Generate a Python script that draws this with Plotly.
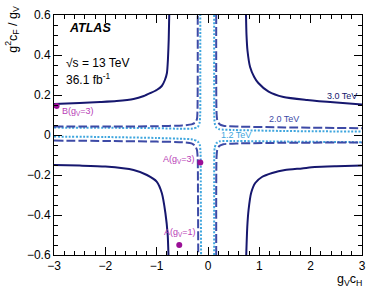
import plotly.graph_objects as go

# ---- data ----
# 3.0 TeV contour (solid), four branches
sol_ul_x = [-3.0, -2.5, -2.1, -1.78, -1.45, -1.25, -1.12, -1.0, -0.9, -0.84, -0.8, -0.78, -0.765, -0.755]
sol_ul_y = [0.155, 0.16, 0.165, 0.17, 0.18, 0.195, 0.21, 0.225, 0.245, 0.275, 0.31, 0.38, 0.48, 0.6]
sol_ur_x = [0.74, 0.75, 0.77, 0.82, 0.9, 0.98, 1.18, 1.47, 1.93, 2.5, 3.0]
sol_ur_y = [0.6, 0.5, 0.42, 0.34, 0.29, 0.26, 0.217, 0.19, 0.175, 0.162, 0.153]
sol_ll_x = [-3.0, -2.5, -2.0, -1.45, -1.19, -1.0, -0.9, -0.83, -0.785, -0.77]
sol_ll_y = [-0.15, -0.153, -0.158, -0.175, -0.2, -0.233, -0.29, -0.39, -0.5, -0.6]
sol_lr_x = [0.745, 0.765, 0.79, 0.84, 0.92, 1.05, 1.25, 1.5, 1.83, 2.08, 2.5, 3.0]
sol_lr_y = [-0.6, -0.46, -0.375, -0.29, -0.24, -0.21, -0.19, -0.175, -0.167, -0.16, -0.156, -0.153]

# 2.0 TeV contour (dashed)
das_ul_x = [-3.0, -2.0, -1.0, -0.5, -0.32, -0.25, -0.215, -0.205, -0.2, -0.2]
das_ul_y = [0.043, 0.042, 0.044, 0.048, 0.053, 0.062, 0.08, 0.12, 0.3, 0.6]
das_ur_x = [0.16, 0.16, 0.165, 0.18, 0.22, 0.3, 0.6, 1.5, 3.0]
das_ur_y = [0.6, 0.3, 0.12, 0.075, 0.055, 0.046, 0.042, 0.038, 0.034]
das_ll_x = [-3.0, -2.0, -1.0, -0.5, -0.32, -0.25, -0.215, -0.2, -0.195, -0.19]
das_ll_y = [-0.028, -0.03, -0.033, -0.036, -0.042, -0.055, -0.075, -0.12, -0.3, -0.6]
das_lr_x = [0.16, 0.16, 0.165, 0.18, 0.22, 0.3, 0.6, 1.5, 3.0]
das_lr_y = [-0.6, -0.3, -0.12, -0.075, -0.055, -0.046, -0.042, -0.039, -0.037]

# 1.2 TeV contour (dotted)
dot_ul_x = [-3.0, -2.0, -1.0, -0.5, -0.3, -0.2, -0.165, -0.152, -0.15, -0.15]
dot_ul_y = [0.037, 0.036, 0.034, 0.031, 0.032, 0.04, 0.06, 0.1, 0.3, 0.6]
dot_ur_x = [0.12, 0.12, 0.122, 0.13, 0.16, 0.22, 0.5, 1.5, 3.0]
dot_ur_y = [0.6, 0.3, 0.1, 0.06, 0.038, 0.029, 0.025, 0.02, 0.017]
dot_ll_x = [-3.0, -2.0, -1.0, -0.5, -0.3, -0.2, -0.16, -0.145, -0.14, -0.135]
dot_ll_y = [-0.008, -0.01, -0.015, -0.019, -0.022, -0.032, -0.05, -0.09, -0.3, -0.6]
dot_lr_x = [0.12, 0.12, 0.122, 0.13, 0.16, 0.22, 0.5, 1.5, 3.0]
dot_lr_y = [-0.6, -0.3, -0.1, -0.065, -0.042, -0.032, -0.03, -0.033, -0.036]

# benchmark points
pt_names = ["B(g<sub>V</sub>=3)", "A(g<sub>V</sub>=3)", "A(g<sub>V</sub>=1)"]
pt_x = [-2.95, -0.15, -0.56]
pt_y = [0.145, -0.138, -0.55]

# contour labels
lab_text = ["3.0 TeV", "2.0 TeV", "1.2 TeV"]
lab_x = [2.62, 1.49, 0.55]
lab_y = [0.195, 0.078, 0.0]

x_ticks = [-3, -2, -1, 0, 1, 2, 3]
y_ticks = [-0.6, -0.4, -0.2, 0, 0.2, 0.4, 0.6]

C_SOL = "#16176e"
C_DAS = "#3d4aa6"
C_DOT = "#3fa6de"
C_PT = "#9a0f96"
C_PTL = "#b83cb6"
FONT = "Liberation Sans"


def join(*branches):
    xs, ys = [], []
    for bx, by in branches:
        if xs:
            xs.append(None)
            ys.append(None)
        xs += bx
        ys += by
    return xs, ys


fig = go.Figure()

dx, dy = join((dot_ul_x, dot_ul_y), (dot_ur_x, dot_ur_y), (dot_ll_x, dot_ll_y), (dot_lr_x, dot_lr_y))
fig.add_trace(go.Scatter(x=dx, y=dy, mode="lines",
                         line=dict(color=C_DOT, width=2, dash="2px,1.6px", shape="spline", smoothing=0.6)))
ax_, ay_ = join((das_ul_x, das_ul_y), (das_ur_x, das_ur_y), (das_ll_x, das_ll_y), (das_lr_x, das_lr_y))
fig.add_trace(go.Scatter(x=ax_, y=ay_, mode="lines",
                         line=dict(color=C_DAS, width=2, dash="9px,3px", shape="spline", smoothing=0.6)))
sx, sy = join((sol_ul_x, sol_ul_y), (sol_ur_x, sol_ur_y), (sol_ll_x, sol_ll_y), (sol_lr_x, sol_lr_y))
fig.add_trace(go.Scatter(x=sx, y=sy, mode="lines",
                         line=dict(color=C_SOL, width=2, shape="spline", smoothing=0.6)))

fig.add_trace(go.Scatter(x=pt_x, y=pt_y, mode="markers",
                         marker=dict(color=C_PT, size=6)))

# point labels
fig.add_annotation(x=pt_x[0], y=pt_y[0], text=pt_names[0], showarrow=False,
                   xanchor="left", yanchor="top", xshift=3, yshift=2,
                   font=dict(family=FONT, size=9, color=C_PTL))
fig.add_annotation(x=pt_x[1], y=pt_y[1], text=pt_names[1], showarrow=False,
                   xanchor="right", yanchor="bottom", xshift=-4, yshift=-4,
                   font=dict(family=FONT, size=9, color=C_PTL))
fig.add_annotation(x=pt_x[2], y=pt_y[2], text=pt_names[2], showarrow=False,
                   xanchor="right", yanchor="bottom", xshift=18, yshift=5,
                   font=dict(family=FONT, size=9, color=C_PTL))

lab_cols = [C_SOL, C_DAS, C_DOT]
for t, x, y, c in zip(lab_text, lab_x, lab_y, lab_cols):
    fig.add_annotation(x=x, y=y, text=t, showarrow=False, xanchor="center", yanchor="middle",
                       font=dict(family=FONT, size=9, color=c))

# ATLAS texts
fig.add_annotation(xref="paper", yref="paper", x=0.043, y=0.946, text="<b><i>ATLAS</i></b>",
                   showarrow=False, xanchor="left", yanchor="middle",
                   font=dict(family=FONT, size=12.5, color="black"))
fig.add_annotation(xref="paper", yref="paper", x=0.033, y=0.8, text="√s = 13 TeV",
                   showarrow=False, xanchor="left", yanchor="middle",
                   font=dict(family=FONT, size=12, color="black"))
fig.add_annotation(xref="paper", yref="paper", x=0.033, y=0.733, text="36.1 fb<sup>-1</sup>",
                   showarrow=False, xanchor="left", yanchor="middle",
                   font=dict(family=FONT, size=12, color="black"))

# axis titles
fig.add_annotation(xref="paper", yref="paper", x=-0.136, y=1.045,
                   text="g<sup>2</sup>c<sub>F</sub> / g<sub>V</sub>", textangle=-90,
                   showarrow=False, xanchor="center", yanchor="top",
                   font=dict(family=FONT, size=12.5, color="black"))
fig.add_annotation(xref="paper", yref="paper", x=1.005, y=-0.105,
                   text="g<sub>V</sub>c<sub>H</sub>",
                   showarrow=False, xanchor="right", yanchor="middle",
                   font=dict(family=FONT, size=12.5, color="black"))

axis_common = dict(showgrid=False, zeroline=False, showline=True, linecolor="black", linewidth=1,
                   mirror="allticks", ticks="inside", tickcolor="black", tickwidth=1, ticklen=8,
                   automargin=False,
                   tickfont=dict(family=FONT, size=12, color="black"))

fig.update_xaxes(range=[-3, 3], tickvals=x_ticks, ticktext=[("−" + str(-v)) if v < 0 else str(v) for v in x_ticks],
                 minor=dict(ticks="inside", dtick=0.2, ticklen=4, tickcolor="black", tickwidth=1),
                 **axis_common)
fig.update_yaxes(range=[-0.6, 0.6], tickvals=y_ticks,
                 ticktext=[("−" + f"{-v:.1f}") if v < 0 else ("0" if v == 0 else f"{v:.1f}") for v in y_ticks],
                 minor=dict(ticks="inside", dtick=0.05, ticklen=4, tickcolor="black", tickwidth=1),
                 **axis_common)

fig.update_layout(width=374, height=297, margin=dict(l=54, r=12, t=15, b=42, autoexpand=False),
                  plot_bgcolor="white", paper_bgcolor="white", showlegend=False)

fig.write_html("out.html", config={"displayModeBar": False},
               post_script="document.body.style.margin='0';document.body.style.overflow='hidden';")
